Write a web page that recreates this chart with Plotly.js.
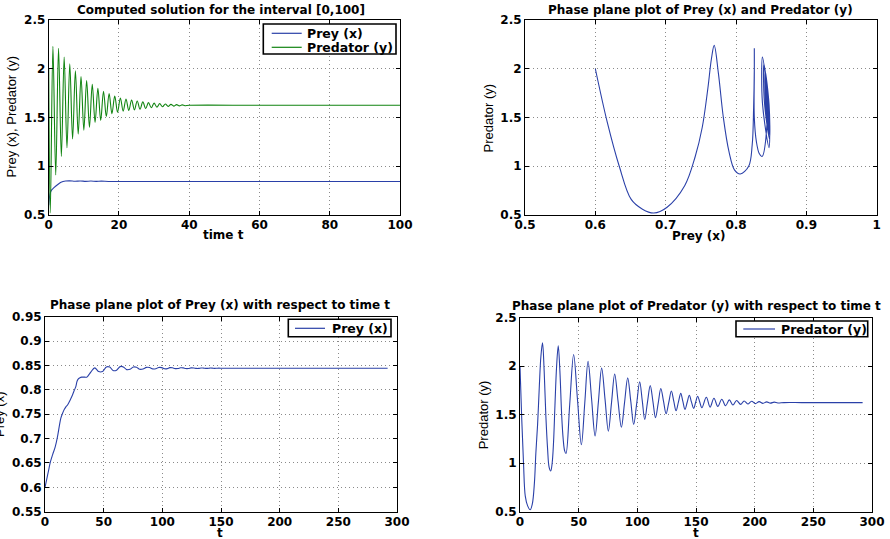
<!DOCTYPE html>
<html><head><meta charset="utf-8">
<script src="https://cdn.plot.ly/plotly-3.0.1.min.js"></script>
<style>html,body{margin:0;padding:0;background:#fff}#chart{width:890px;height:539px}</style>
</head><body><div id="chart"></div>
<script>
// ---- Top-left panel: computed solution on [0,100] ----
const tTopPred = [0,0.45,1.2,2.0,2.8,3.6,4.4,5.2,6.0,6.8,7.6,8.4,9.2,10.0,10.8,11.6,12.4,13.2,14.0,14.8,15.6,16.4,17.2,18.0,18.8,19.6,20.4,21.2,22.0,22.8,23.6,24.4,25.2,26.0,26.8,27.6,28.4,29.2,30.0,30.8,31.6,32.4,33.2,34.0,34.8,35.6,36.4,37.2,38.0,38.8,40,60,80,100];
const predTop = [2.00,0.52,2.23,0.91,2.21,1.10,2.12,1.19,2.05,1.28,1.98,1.33,1.92,1.37,1.88,1.40,1.84,1.45,1.80,1.47,1.77,1.51,1.745,1.54,1.72,1.555,1.70,1.565,1.69,1.572,1.68,1.578,1.67,1.585,1.66,1.592,1.653,1.60,1.647,1.606,1.642,1.61,1.638,1.614,1.635,1.617,1.632,1.619,1.630,1.621,1.625,1.625,1.625,1.625];
const tTopPrey = [0,0.3,0.7,1.5,2.5,3.5,4.8,6.0,7.5,9.0,10.5,12.0,13.5,15.0,17.0,20.0,40.0,100.0];
const preyTop = [0.60,0.70,0.75,0.78,0.81,0.835,0.848,0.850,0.846,0.849,0.845,0.848,0.845,0.847,0.844,0.844,0.843,0.843];

// ---- Long run solution on [0,292] (used by the three other panels) ----
const tSol = [0,1.5,3,4.5,6.5,8.7,10.5,12.3,13.5,15.0,16.5,17.8,19.2,20.6,22.0,23.5,24.8,26.2,27.4,28.6,29.8,31.2,32.6,34.0,35.5,36.8,38.0,39.2,
  42.4,45.7,49.0,52.3,55.2,58.0,61.0,64.0,66.8,69.6,72.5,75.3,78.0,80.7,83.5,86.4,89.1,91.8,94.4,96.9,99.5,102.0,104.2,106.3,108.6,111.0,113.3,115.5,117.8,120.0,122.3,124.5,126.8,129.0,131.0,133.0,135.0,137.0,138.8,140.6,142.5,144.3,146.1,148.0,149.7,151.4,153.2,155.0,
  158.8,162.0,165.3,168.6,172.0,175.2,178.4,181.5,184.6,188.0,191.0,194.2,197.4,200.6,203.8,207.0,210.2,213.4,216.6,219.8,225,240,260,280,292];
const preySol = [0.600,0.617,0.634,0.651,0.667,0.683,0.702,0.727,0.742,0.752,0.760,0.765,0.769,0.775,0.782,0.790,0.798,0.806,0.818,0.823,0.825,0.826,0.826,0.826,0.826,0.829,0.833,0.837,
  0.845,0.8375,0.8375,0.847,0.8467,0.8396,0.8403,0.8476,0.847,0.8414,0.842,0.8468,0.8464,0.8422,0.8426,0.846,0.8458,0.843,0.8433,0.8458,0.8455,0.8432,0.8435,0.8455,0.8452,0.8435,0.8437,0.8452,0.845,0.8437,0.8438,0.845,0.8448,0.8439,0.844,0.8448,0.8446,0.844,0.8441,0.8446,0.8445,0.8441,0.8442,0.8445,0.8444,0.8442,0.8443,0.8444,
  0.8443,0.8443,0.8443,0.8443,0.8443,0.8443,0.8443,0.8443,0.8443,0.8443,0.8443,0.8443,0.8443,0.8443,0.8443,0.8443,0.8443,0.8443,0.8443,0.8443,0.8443,0.8443,0.8443,0.8443,0.8443];
const predSol = [2.00,1.45,1.00,0.66,0.56,0.52,0.58,0.80,1.10,1.40,1.80,2.10,2.24,1.95,1.50,1.15,0.96,0.92,1.00,1.22,1.60,2.00,2.21,1.95,1.50,1.25,1.13,1.10,
  1.61,2.12,1.655,1.19,1.62,2.05,1.665,1.28,1.63,1.98,1.655,1.33,1.625,1.92,1.645,1.37,1.625,1.88,1.64,1.40,1.62,1.84,1.645,1.45,1.625,1.80,1.635,1.47,1.62,1.77,1.64,1.51,1.627,1.745,1.642,1.54,1.63,1.72,1.637,1.555,1.628,1.70,1.633,1.565,1.628,1.69,1.631,1.572,
  1.68,1.578,1.67,1.585,1.66,1.592,1.653,1.60,1.647,1.606,1.642,1.61,1.638,1.614,1.635,1.617,1.632,1.619,1.630,1.621,1.625,1.625,1.625,1.625,1.625];

const legendTopNames = ['Prey (x)', 'Predator (y)'];

const W = 890, H = 539;
const px = v => v / W, py = v => 1 - v / H;
const blue = '#2a40a8', green = '#118411';
const boldFont = {family: 'DejaVu Sans', size: 12, color: '#000', weight: 'bold'};
const legFont = {family: 'DejaVu Sans', size: 12.5, color: '#000', weight: 'bold'};
const labFont = {family: 'Liberation Sans Narrow, Arial Narrow, Liberation Sans', size: 13, color: '#000'};

function axis(domain, range, dtick, anchor, isX) {
  const a = {domain: domain, range: range, dtick: dtick, tick0: range[0], anchor: anchor,
    showline: true, linecolor: '#000', linewidth: 1, mirror: 'ticks', ticks: 'inside', ticklen: 4, tickcolor: '#000',
    showgrid: true, gridcolor: '#8a8a8a', griddash: '1px,3px', gridwidth: 1, zeroline: false,
    tickfont: boldFont, fixedrange: true};
  if (isX) a.ticklabelstandoff = -1;
  return a;
}

const traces = [
  {x: tTopPrey, y: preyTop, xaxis: 'x', yaxis: 'y', mode: 'lines', name: legendTopNames[0],
   line: {color: blue, width: 1.1, shape: 'spline'}},
  {x: tTopPred, y: predTop, xaxis: 'x', yaxis: 'y', mode: 'lines', name: legendTopNames[1],
   line: {color: green, width: 1.1, shape: 'spline'}},
  {x: preySol, y: predSol, xaxis: 'x2', yaxis: 'y2', mode: 'lines',
   line: {color: blue, width: 1.1, shape: 'spline'}},
  {x: tSol, y: preySol, xaxis: 'x3', yaxis: 'y3', mode: 'lines', name: 'Prey (x)',
   line: {color: blue, width: 1.1, shape: 'spline'}},
  {x: tSol, y: predSol, xaxis: 'x4', yaxis: 'y4', mode: 'lines', name: 'Predator (y)',
   line: {color: blue, width: 1.1, shape: 'spline'}}
];

function ann(text, x, y, font, angle, anchor) {
  return {text: text, x: px(x), y: py(y), xref: 'paper', yref: 'paper', xanchor: anchor || 'center', yanchor: 'middle',
    showarrow: false, font: font, textangle: angle || 0};
}

// legend boxes drawn as shapes + text (compact MATLAB style legends)
const shapes = [];
const legendAnns = [];
function legendBox(x0, y0, x1, y1, items) {
  shapes.push({type: 'rect', xref: 'paper', yref: 'paper', x0: px(x0), x1: px(x1), y0: py(y0), y1: py(y1),
    line: {color: '#000', width: 1.6}, fillcolor: '#fff', layer: 'above'});
  items.forEach(it => {
    shapes.push({type: 'line', xref: 'paper', yref: 'paper', x0: px(it.lx0), x1: px(it.lx1), y0: py(it.y), y1: py(it.y),
      line: {color: it.color, width: 1.2}, layer: 'above'});
    legendAnns.push(ann(it.name, it.tx, it.y, legFont, 0, 'left'));
  });
}
legendBox(263.3, 24, 396, 54, [
  {name: traces[0].name, color: blue, lx0: 271.7, lx1: 301.7, tx: 305, y: 33.3},
  {name: traces[1].name, color: green, lx0: 271.7, lx1: 301.7, tx: 305, y: 47.3}]);
legendBox(288.3, 319.3, 391, 336.7, [
  {name: traces[3].name, color: blue, lx0: 295, lx1: 325, tx: 329.5, y: 328.3}]);
legendBox(736, 321, 867.7, 336.7, [
  {name: traces[4].name, color: blue, lx0: 743.3, lx1: 775, tx: 778.5, y: 329}]);

const layout = {
  width: W, height: H, margin: {l: 0, r: 0, t: 0, b: 0}, paper_bgcolor: '#fff', plot_bgcolor: '#fff',
  showlegend: false,
  xaxis: axis([px(48.7), px(400)], [0, 100], 20, 'y', true),
  yaxis: axis([py(215), py(20)], [0.5, 2.5], 0.5, 'x'),
  xaxis2: axis([px(525), px(876.7)], [0.5, 1], 0.1, 'y2', true),
  yaxis2: axis([py(215), py(20)], [0.5, 2.5], 0.5, 'x2'),
  xaxis3: axis([px(45), px(397)], [0, 300], 50, 'y3', true),
  yaxis3: axis([py(511.7), py(316.7)], [0.55, 0.95], 0.05, 'x3'),
  xaxis4: axis([px(520), px(872)], [0, 300], 50, 'y4', true),
  yaxis4: axis([py(511.7), py(317.7)], [0.5, 2.5], 0.5, 'x4'),
  shapes: shapes,
  annotations: [
    ann('Computed solution for the interval [0,100]', 221, 10, boldFont),
    ann('Phase plane plot of Prey (x) and Predator (y)', 700, 10, boldFont),
    ann('Phase plane plot of Prey (x) with respect to time t', 220, 305, boldFont),
    ann('Phase plane plot of Predator (y) with respect to time t', 696.7, 306, boldFont),
    ann('time t', 223.3, 235, boldFont),
    ann('Prey (x)', 699.3, 236, boldFont),
    ann('t', 220, 533, boldFont),
    ann('t', 696, 533, boldFont),
    ann('Prey (x), Predator (y)', 11.7, 116.7, labFont, -90),
    ann('Predator (y)', 487.5, 118, labFont, -90),
    ann('Prey (x)', -1, 414, labFont, -90),
    ann('Predator (y)', 483.3, 415, labFont, -90)
  ].concat(legendAnns)
};

Plotly.newPlot('chart', traces, layout, {staticPlot: true, displayModeBar: false});
</script></body></html>
